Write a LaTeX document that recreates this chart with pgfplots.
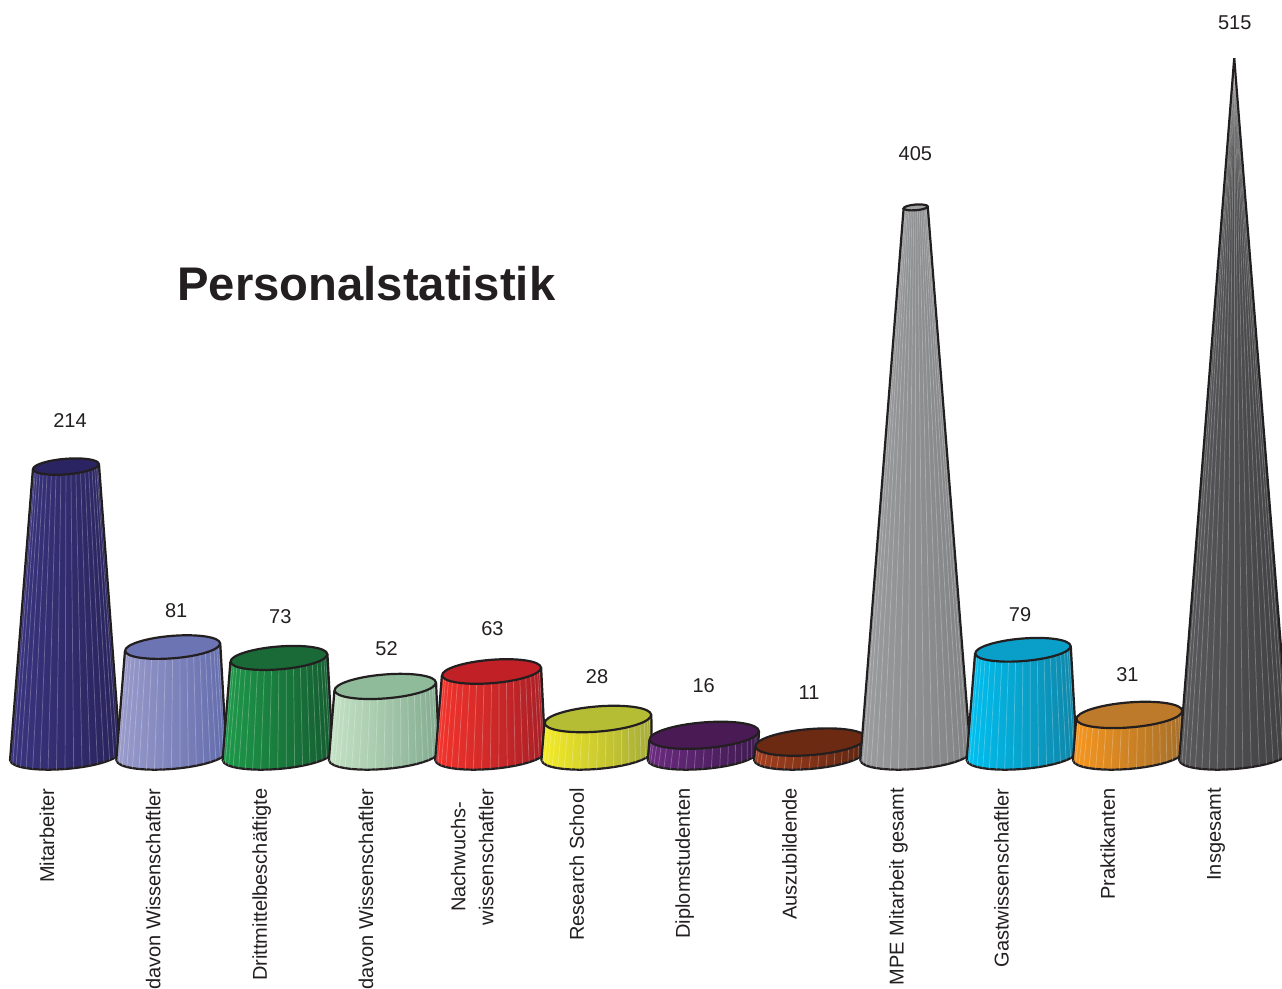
\documentclass[border=0pt]{standalone}
\usepackage{pgfplots}
\pgfplotsset{compat=1.18}
\usepackage{pgfplotstable}
\usepackage{fontspec}
\setmainfont{Liberation Sans}
\definecolor{ink}{HTML}{231F20}
\definecolor{txt}{HTML}{231F20}
\newcommand{\palette}[5]{%
 \definecolor{#1L}{HTML}{#2}\definecolor{#1M}{HTML}{#3}\definecolor{#1R}{HTML}{#4}\definecolor{#1T}{HTML}{#5}}
\palette{a}{3A3480}{2A2563}{29245C}{2A2463}
\palette{b}{9A9CCB}{7A7FBD}{636CAD}{6C74B4}
\palette{c}{1E9A4A}{1A7A3E}{145C30}{1A6A38}
\palette{d}{C5E3C5}{9BD0A8}{83AC90}{8FBB9A}
\palette{e}{F5332B}{E0202A}{A81F26}{C02026}
\palette{f}{F5EC25}{D6DD3A}{A5AB3A}{B5BD34}
\palette{g}{6B2A80}{5A2070}{3E1A50}{4A1A55}
\palette{h}{A5401F}{85301A}{5F2510}{6D2A12}
\palette{i}{9A9C9E}{A9ABAD}{808284}{A0A2A4}
\palette{j}{00C0F0}{0AA8D8}{0F85A8}{0A9FC8}
\palette{k}{F7961E}{CC8428}{A56F2A}{BD7A2A}
\palette{l}{5A5A5C}{58585A}{404042}{555557}
\pgfplotstableread{
x y v
0.047 248.1 214
1.045 107.9 81
2.025 103.5 73
3.025 79.9 52
4.021 94.7 63
5.005 59.3 28
6.009 52.7 16
7.000 47.5 11
8.000 444.7 405
8.985 105.0 79
9.995 60.8 31
11.005 541.2 515
}\labeltable
\newcommand{\conebar}[3]{% index, value, palette
 \pgfplotsextra{%
  \draw[line width=1.1pt,draw=ink,left color=#3L,middle color=#3M,right color=#3R]
    [shift={(axis cs:#1,0.74)},rotate=4.6] (0pt,0pt) ellipse [x radius=27.5pt,y radius=6.5pt];
 }%
 \pgfmathsetmacro\ff{max(1-#2/515,0.0001)}%
 \pgfmathsetmacro\xa{#1-0.518}\pgfmathsetmacro\xb{#1-0.518*\ff}%
 \pgfmathsetmacro\xc{#1+0.546*\ff}\pgfmathsetmacro\xd{#1+0.518}%
 \pgfmathsetmacro\ya{-2.5}\pgfmathsetmacro\yb{#2-3.24*\ff}%
 \pgfmathsetmacro\yc{#2+3.24*\ff}\pgfmathsetmacro\yd{3.98}%
 \addplot[draw=none,left color=#3L,middle color=#3M,right color=#3R,forget plot]
   coordinates {(\xa,\ya) (\xb,\yb) (\xc,\yc) (\xd,\yd)};
 \pgfplotsextra{%
  \pgfmathsetmacro\ff{max(1-#2/515,0.0001)}%
  \pgfmathsetmacro\tc{#1+0.0141*\ff}%
  \foreach \t in {9,18,...,171}{%
   \pgfmathsetmacro\dxa{27.5*cos(\t)}\pgfmathsetmacro\dya{-6.5*sin(\t)+0.08*\dxa}%
   \pgfmathsetmacro\dxb{\dxa*\ff}\pgfmathsetmacro\dyb{-6.5*\ff*sin(\t)+0.08*\dxb}%
   \draw[white,opacity=0.27,line width=0.36pt]
     ([xshift=\dxa pt,yshift=\dya pt]axis cs:#1,0.74) -- ([xshift=\dxb pt,yshift=\dyb pt]axis cs:\tc,#2);
  }%
  \ifnum#2<515
  \draw[line width=1.1pt,draw=ink,fill=#3T]
    [shift={(axis cs:\tc,#2)},rotate=4.6] (0pt,0pt) ellipse [x radius=28.25pt*\ff,y radius=6.65pt*\ff];
  \fi
 }%
 \addplot[draw=ink,line width=1.1pt,forget plot] coordinates {(\xa,\ya) (\xb,\yb)};
 \addplot[draw=ink,line width=1.1pt,forget plot] coordinates {(\xd,\yd) (\xc,\yc)};
}
\begin{document}
\begin{tikzpicture}
\path[use as bounding box,clip] (0,0) rectangle (641pt,494.5pt);
\begin{axis}[
  scale only axis,width=641pt,height=494.5pt,
  xmin=-0.6122,xmax=11.4496,ymin=-170.96,ymax=557.85,
  clip=false,
  axis line style={draw=none},
  major tick length=0pt,
  ytick=\empty,
  xtick={-0.17,0.83,1.85,2.83,3.83,4.815,5.83,6.815,7.84,8.81,9.81,10.83},
  xticklabels={Mitarbeiter,davon Wissenschaftler,Drittmittelbeschäftigte,davon Wissenschaftler,{Nachwuchs-\\wissenschaftler},Research School,Diplomstudenten,Auszubildende,MPE Mitarbeit gesamt,Gastwissenschaftler,Praktikanten,Insgesamt},
  x tick label style={yshift=100.5pt,rotate=90,anchor=east,align=center,inner sep=0pt,font=\fontsize{10}{14}\selectfont,text=txt},
]
\conebar{0}{214}{a}
\conebar{1}{81}{b}
\conebar{2}{73}{c}
\conebar{3}{52}{d}
\conebar{4}{63}{e}
\conebar{5}{28}{f}
\conebar{6}{16}{g}
\conebar{7}{11}{h}
\conebar{8}{405}{i}
\conebar{9}{79}{j}
\conebar{10}{31}{k}
\conebar{11}{515}{l}
\addplot[draw=none,forget plot,
  nodes near coords,point meta=explicit symbolic,
  nodes near coords align={anchor=center},
  every node near coord/.append style={font=\fontsize{10}{12}\selectfont,text=txt,inner sep=0pt}]
  table[x=x,y=y,meta=v] {\labeltable};
\node[font=\fontsize{23.6}{28}\bfseries,text=txt] at (axis cs:2.835,348.6) {Personalstatistik};
\end{axis}
\end{tikzpicture}
\end{document}
